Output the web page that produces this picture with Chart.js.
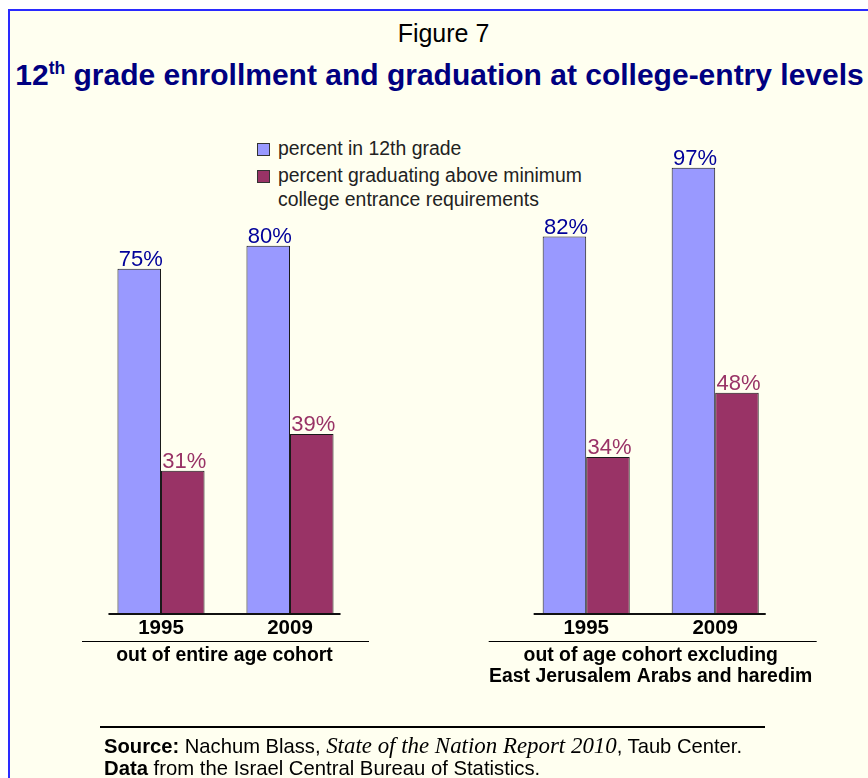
<!DOCTYPE html>
<html>
<head>
<meta charset="utf-8">
<script src="https://cdn.jsdelivr.net/npm/chart.js@4.4.1/dist/chart.umd.min.js"></script>
<style>
html,body{margin:0;padding:0;background:#fff;}
#page{position:relative;width:868px;height:778px;overflow:hidden;background:#fff;font-family:"Liberation Sans",Arial,sans-serif;}
#frame{position:absolute;left:8px;top:9px;width:900px;height:800px;border-left:2px solid #2a2aff;border-top:2px solid #2a2aff;background:#FFFFF0;}
.txt{position:absolute;white-space:nowrap;line-height:1;}
canvas{position:absolute;top:0;}
#legend .item{position:absolute;left:0;white-space:nowrap;line-height:1;font-size:19.4px;color:#222;}
#legend .sw{position:absolute;width:11px;height:11px;border:1px solid #333;}
#srcline{position:absolute;left:100px;top:726px;width:665px;height:2px;background:#000;}
</style>
</head>
<body>
<div id="page">
  <div id="frame"></div>
  <div class="txt" style="left:0;width:887px;top:20.5px;text-align:center;font-size:25px;color:#000;">Figure 7</div>
  <div class="txt" style="left:0;width:879px;top:60px;text-align:center;font-size:30px;font-weight:bold;color:#000080;">12<span style="font-size:17.5px;position:relative;top:-11px;">th</span> grade enrollment and graduation at college-entry levels</div>
  <div id="legend" style="position:absolute;left:257px;top:0;"></div>
  <canvas id="c1"></canvas>
  <canvas id="c2"></canvas>
  <div id="srcline"></div>
  <div class="txt" style="left:104px;top:735px;font-size:20.2px;color:#000;"><b>Source:</b> Nachum Blass, <i style="font-family:'Liberation Serif','Times New Roman',serif;font-size:22.9px;">State of the Nation Report 2010</i>, Taub Center.</div>
  <div class="txt" style="left:104px;top:758px;font-size:20.3px;color:#000;"><b>Data</b> from the Israel Central Bureau of Statistics.</div>
</div>
<script>
// ---- data ----
const years = ['1995', '2009'];
const seriesNames = [['percent in 12th grade'], ['percent graduating above minimum', 'college entrance requirements']];
const groupTitles = [['out of entire age cohort'], ['out of age cohort excluding', 'East Jerusalem Arabs and haredim']];
const enrolledAll = [75, 80];
const graduatedAll = [31, 39];
const enrolledExcl = [82, 97];
const graduatedExcl = [34, 48];

// ---- styles ----
const barColors = ['#9999FF', '#993366'];
const labelColors = ['#000099', '#993366'];
const FONT = '"Liberation Sans", Arial, sans-serif';

// legend (HTML)
(function(){
  const lg = document.getElementById('legend');
  const rows = [{sw:142.5, lines:[148.5]}, {sw:170, lines:[176, 199.5]}];
  seriesNames.forEach((lines, i) => {
    const sw = document.createElement('div');
    sw.className = 'sw';
    sw.style.top = rows[i].sw + 'px';
    sw.style.background = barColors[i];
    lg.appendChild(sw);
    lines.forEach((t, k) => {
      const d = document.createElement('div');
      d.className = 'item';
      d.style.left = '21px';
      d.style.top = (rows[i].lines[k] - 9.7) + 'px';
      d.textContent = t;
      lg.appendChild(d);
    });
  });
})();

const decor = {
  id: 'decor',
  afterDatasetsDraw(chart) {
    const ctx = chart.ctx;
    let minX = Infinity, maxX = -Infinity;
    chart.data.datasets.forEach((ds, i) => {
      const meta = chart.getDatasetMeta(i);
      meta.data.forEach((bar, j) => {
        minX = Math.min(minX, bar.x - bar.width / 2);
        maxX = Math.max(maxX, bar.x + bar.width / 2);
        ctx.save();
        ctx.font = '22px ' + FONT;
        ctx.fillStyle = labelColors[i];
        ctx.textAlign = 'center';
        ctx.textBaseline = 'alphabetic';
        ctx.fillText(ds.data[j] + '%', bar.x + 1.5, bar.y - 3);
        ctx.restore();
      });
    });
    const ca = chart.chartArea;
    const opt = chart.options.plugins.decor;
    ctx.save();
    ctx.strokeStyle = '#111';
    ctx.lineWidth = 2;
    ctx.beginPath();
    ctx.moveTo(minX - 9, ca.bottom + 1);
    ctx.lineTo(maxX + 7, ca.bottom + 1);
    ctx.stroke();
    ctx.strokeStyle = '#000';
    ctx.lineWidth = 1;
    ctx.beginPath();
    ctx.moveTo(ca.left - opt.extL, ca.bottom + 28.5);
    ctx.lineTo(ca.right + opt.extR, ca.bottom + 28.5);
    ctx.stroke();
    // group title
    ctx.font = 'bold 19.4px ' + FONT;
    ctx.fillStyle = '#000';
    ctx.textAlign = 'center';
    ctx.textBaseline = 'middle';
    const cx = (ca.left + ca.right) / 2 + opt.dx;
    opt.title.forEach((t, k) => ctx.fillText(t, cx, ca.bottom + 43 + k * 20.8));
    ctx.restore();
  }
};

function makeChart(id, left, width, padL, padR, enrolled, graduated, title, extL, extR, dx) {
  const cv = document.getElementById(id);
  cv.style.left = left + 'px';
  return new Chart(cv, {
    type: 'bar',
    data: {
      labels: years,
      datasets: [
        {label: seriesNames[0].join(' '), data: enrolled, backgroundColor: barColors[0], borderColor: '#1a1a1a', borderWidth: 1},
        {label: seriesNames[1].join(' '), data: graduated, backgroundColor: barColors[1], borderColor: '#1a1a1a', borderWidth: 1}
      ]
    },
    options: {
      responsive: false,
      animation: false,
      devicePixelRatio: 1,
      categoryPercentage: 0.675,
      barPercentage: 1,
      layout: {padding: {left: padL, right: padR, top: 154, bottom: 75}},
      plugins: {legend: {display: false}, tooltip: {enabled: false}, title: {display: false},
        decor: {extL: extL, extR: extR, title: title, dx: dx}},
      scales: {
        y: {display: false, min: 0, max: 100},
        x: {
          offset: true,
          grid: {display: false, drawTicks: false},
          border: {display: false},
          ticks: {color: '#000', font: {family: FONT, size: 20.5, weight: 'bold'}, padding: 3},
          title: {display: false},
          afterFit(scale) { scale.height = 90; }
        }
      }
    },
    plugins: [decor]
  });
}

document.getElementById('c1').width = 440; document.getElementById('c1').height = 778;
document.getElementById('c2').width = 428; document.getElementById('c2').height = 778;
makeChart('c1', 0, 440, 96.5, 85.5, enrolledAll, graduatedAll, groupTitles[0], 14.5, 14.5, -1);
makeChart('c2', 440, 428, 81.7, 88.3, enrolledExcl, graduatedExcl, groupTitles[1], 33, 37, 0);
</script>
</body>
</html>
